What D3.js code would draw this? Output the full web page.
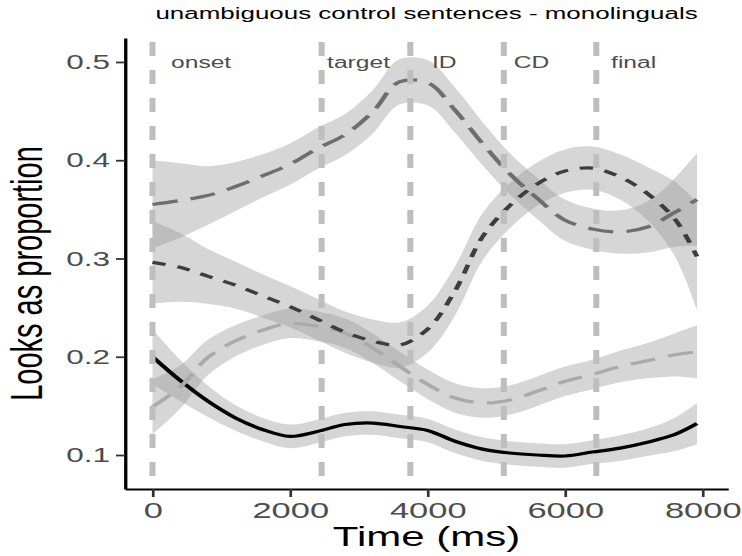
<!DOCTYPE html>
<html lang="en">
<head>
<meta charset="utf-8">
<title>unambiguous control sentences - monolinguals</title>
<script src="https://cdn.jsdelivr.net/npm/d3@7"></script>
<style>
  body { margin: 0; background: #fff; }
  text { font-family: "Liberation Sans", Arial, sans-serif; }
</style>
</head>
<body>
<script>
// time points (ms)
var time = [0, 400, 800, 1200, 1600, 2000, 2400, 2800, 3200, 3600, 4000, 4400, 4800, 5200, 5600, 6000, 6400, 6800, 7200, 7600, 7920];

// smoothed looks + half width of the ribbon, one pair per line
var meanA = [0.355, 0.359, 0.364, 0.373, 0.384, 0.396, 0.412, 0.426, 0.449, 0.480, 0.479, 0.451, 0.417, 0.386, 0.361, 0.339, 0.330, 0.327, 0.332, 0.347, 0.360];
var ciA   = [0.045, 0.038, 0.030, 0.025, 0.022, 0.021, 0.021, 0.021, 0.022, 0.023, 0.023, 0.023, 0.022, 0.021, 0.021, 0.021, 0.021, 0.022, 0.026, 0.035, 0.047];

var meanB = [0.149, 0.169, 0.199, 0.216, 0.227, 0.234, 0.231, 0.224, 0.209, 0.190, 0.172, 0.158, 0.153, 0.156, 0.165, 0.175, 0.182, 0.190, 0.196, 0.202, 0.205];
var ciB   = [0.028, 0.022, 0.018, 0.016, 0.015, 0.015, 0.015, 0.015, 0.015, 0.015, 0.015, 0.015, 0.015, 0.015, 0.015, 0.015, 0.015, 0.016, 0.018, 0.022, 0.027];

var meanC = [0.296, 0.291, 0.282, 0.273, 0.262, 0.251, 0.238, 0.225, 0.216, 0.212, 0.228, 0.267, 0.322, 0.354, 0.376, 0.389, 0.392, 0.383, 0.366, 0.340, 0.302];
var ciC   = [0.042, 0.035, 0.028, 0.024, 0.022, 0.021, 0.021, 0.021, 0.022, 0.023, 0.024, 0.025, 0.024, 0.023, 0.022, 0.022, 0.022, 0.023, 0.027, 0.038, 0.055];

var meanD = [0.200, 0.176, 0.155, 0.138, 0.126, 0.119, 0.124, 0.131, 0.1325, 0.129, 0.125, 0.114, 0.106, 0.102, 0.100, 0.099, 0.103, 0.107, 0.113, 0.121, 0.132];
var ciD   = [0.028, 0.021, 0.016, 0.013, 0.012, 0.012, 0.012, 0.012, 0.012, 0.012, 0.012, 0.012, 0.012, 0.012, 0.012, 0.012, 0.012, 0.013, 0.014, 0.017, 0.021];

// sentence regions
var regionStarts = [0, 2460, 3750, 5110, 6455];
var regionNames  = ["onset", "target", "ID", "CD", "final"];
var regionLabelAt = [270, 2540, 4065, 5255, 6670];

var xTicks = [0, 2000, 4000, 6000, 8000];
var yTicks = [0.1, 0.2, 0.3, 0.4, 0.5];

// the picture is stretched sideways, so draw narrow and let the viewBox widen it
var sx = 1.5;
var w = 742 / sx;
var h = 556;

var svg = d3.select("body").append("svg")
  .attr("width", 742)
  .attr("height", h)
  .attr("viewBox", "0 0 " + w + " " + h)
  .attr("preserveAspectRatio", "none");

var x = d3.scaleLinear().domain([-400, 8371]).range([125 / sx, 728 / sx]);
var y = d3.scaleLinear().domain([0.0654, 0.5244]).range([489, 38]);

var lines = [
  { mean: meanD, ci: ciD, color: "#000000", dash: null },
  { mean: meanA, ci: ciA, color: "#6e6e6e", dash: "17,9" },
  { mean: meanB, ci: ciB, color: "#aaaaaa", dash: "17,9" },
  { mean: meanC, ci: ciC, color: "#3d3d3d", dash: "9,8" }
];

var curve = d3.curveCatmullRom.alpha(0.5);

var area = function(s) {
  return d3.area()
    .x(function(d, i) { return x(time[i]); })
    .y0(function(d, i) { return y(s.mean[i] - s.ci[i]); })
    .y1(function(d, i) { return y(s.mean[i] + s.ci[i]); })
    .curve(curve)(s.mean);
};
var line = function(s) {
  return d3.line()
    .x(function(d, i) { return x(time[i]); })
    .y(function(d) { return y(d); })
    .curve(curve)(s.mean);
};

//ribbons first
svg.append("g").selectAll("path")
  .data(lines)
  .enter()
  .append("path")
  .attr("d", area)
  .style("fill", "#999999")
  .style("fill-opacity", 0.4);

svg.append("g").selectAll("path")
  .data(lines)
  .enter()
  .append("path")
  .attr("d", line)
  .style("fill", "none")
  .style("stroke", function(d) { return d.color; })
  .style("stroke-width", 3.2)
  .style("stroke-dasharray", function(d) { return d.dash; });

// region lines sit on top of the curves
svg.append("g").selectAll("line")
  .data(regionStarts)
  .enter()
  .append("line")
  .attr("x1", function(d) { return x(d); })
  .attr("x2", function(d) { return x(d); })
  .attr("y1", 38)
  .attr("y2", 489)
  .style("stroke", "#bebebe")
  .style("stroke-width", 4)
  .style("stroke-dasharray", "14,14")
  .style("stroke-dashoffset", 24);

svg.append("g").selectAll("text")
  .data(regionNames)
  .enter()
  .append("text")
  .attr("x", function(d, i) { return x(regionLabelAt[i]); })
  .attr("y", y(0.5))
  .attr("dy", "0.35em")
  .style("font-size", "16.4px")
  .style("fill", "#4d4d4d")
  .text(function(d) { return d; });

// axes
var xAxis = svg.append("g")
  .attr("transform", "translate(0,489)")
  .call(d3.axisBottom(x).tickValues(xTicks).tickSize(8).tickPadding(5).tickSizeOuter(0).tickFormat(d3.format("d")));
xAxis.selectAll("text").style("font-size", "23px").style("fill", "#4d4d4d");

var yAxis = svg.append("g")
  .attr("transform", "translate(" + (125 / sx) + ",0)")
  .call(d3.axisLeft(y).tickValues(yTicks).tickSize(6).tickPadding(4).tickSizeOuter(0).tickFormat(d3.format(".1f")));
yAxis.selectAll("text").style("font-size", "21px").style("fill", "#4d4d4d");

svg.selectAll(".domain").style("stroke", "#000").style("stroke-width", 2.2);
svg.selectAll(".tick line").style("stroke", "#333").style("stroke-width", 1.8);

svg.append("text")
  .attr("x", x(-400) + (x(8371) - x(-400)) / 2)
  .attr("y", 546)
  .attr("text-anchor", "middle")
  .style("font-size", "28px")
  .text("Time (ms)");

svg.append("text")
  .attr("transform", "translate(28," + ((38 + 489) / 2 + 10) + ") rotate(-90)")
  .attr("text-anchor", "middle")
  .style("font-size", "29px")
  .text("Looks as proportion");

svg.append("text")
  .attr("x", x(-400) + (x(8371) - x(-400)) / 2)
  .attr("y", 19)
  .attr("text-anchor", "middle")
  .style("font-size", "17.3px")
  .text("unambiguous control sentences - monolinguals");
</script>
</body>
</html>
